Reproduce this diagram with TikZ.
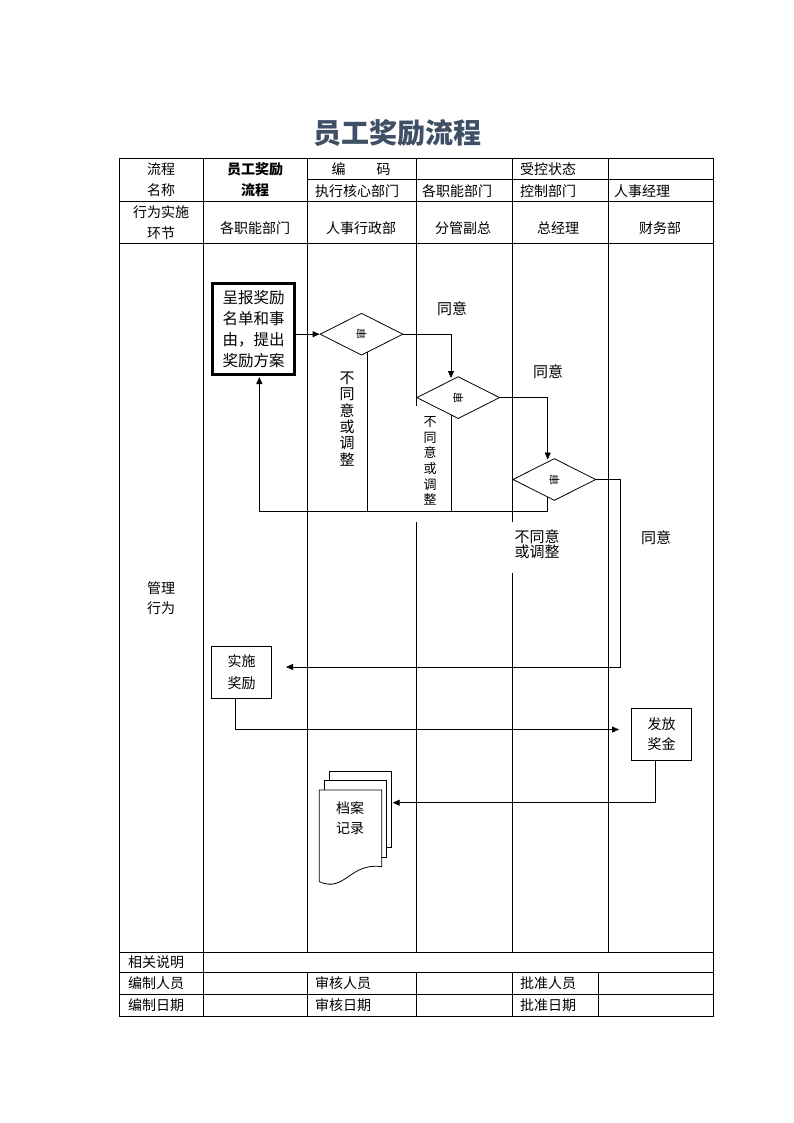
\documentclass[tikz,border=0pt]{standalone}
\usepackage{fontspec}
\newfontfamily\cjk{Noto Sans CJK SC}
\usetikzlibrary{shapes.geometric,arrows.meta}
\definecolor{titleblue}{RGB}{62,79,102}
\begin{document}
\begin{tikzpicture}[x=1pt,y=-1pt,
  every node/.style={font=\cjk\fontsize{14}{16}\selectfont, inner sep=0pt},
  grid/.style={line width=0.8pt},
  flow/.style={line width=0.8pt},
  arr/.style={flow,-{Triangle[length=7pt,width=6pt]}},
  dia/.style={draw, line width=0.8pt, shape=diamond, aspect=2, minimum width=83pt, minimum height=42pt},
  box/.style={draw, line width=0.8pt, align=center},
  lbl/.style={font=\cjk\fontsize{15}{17}\selectfont},
  hdr/.style={font=\cjk\fontsize{14}{21}\selectfont, align=center},
  doc/.style={draw, line width=0.8pt, fill=white}]
\useasboundingbox (0,0) rectangle (794,1123);

% title
\node[font=\cjk\bfseries\fontsize{28}{30}\selectfont, text=titleblue] (title) at (397,133) {员工奖励流程};

% table grid
\draw[grid] (119,158) rectangle (713,1016);
\draw[grid] (307,179) -- (713,179);
\foreach \yy in {201,243,952,972,994} \draw[grid] (119,\yy) -- (713,\yy);
\draw[grid] (203,158) -- (203,1016);
\draw[grid] (307,158) -- (307,952);
\draw[grid] (307,972) -- (307,1016);
\draw[grid] (416,158) -- (416,406);
\draw[grid] (416,522) -- (416,952);
\draw[grid] (416,972) -- (416,1016);
\draw[grid] (512,158) -- (512,522);
\draw[grid] (512,573) -- (512,952);
\draw[grid] (512,972) -- (512,1016);
\draw[grid] (608,158) -- (608,952);
\draw[grid] (598,972) -- (598,1016);

% header texts
\node[hdr] (h11) at (161,180) {流程\\名称};
\node[hdr, font=\cjk\bfseries\fontsize{14}{21}\selectfont] (h12) at (255,180) {员工奖励\\流程};
\node (h13) at (361,169) {编\hspace{31pt}码};
\node (h15) at (548,169) {受控状态};
\node (h23) at (357,191) {执行核心部门};
\node (h24) at (457,191) {各职能部门};
\node (h25) at (548,191) {控制部门};
\node (h26) at (642,191) {人事经理};
\node[hdr] (h31) at (161,222.5) {行为实施\\环节};
\node (h32) at (255,228) {各职能部门};
\node (h33) at (361,228) {人事行政部};
\node (h34) at (463,228) {分管副总};
\node (h35) at (558,228) {总经理};
\node (h36) at (660,228) {财务部};
\node[font=\cjk\fontsize{14}{20}\selectfont, align=center] (m1) at (161,598) {管理\\行为};

% bottom texts
\node (f1) at (156,962) {相关说明};
\node (f2) at (156,983) {编制人员};
\node (f3) at (156,1005) {编制日期};
\node (f4) at (343,983) {审核人员};
\node (f5) at (343,1005) {审核日期};
\node (f6) at (548,983) {批准人员};
\node (f7) at (548,1005) {批准日期};

% flow nodes
\node[box, line width=3pt, minimum width=82pt, minimum height=91pt,
      font=\cjk\fontsize{15.5}{21}\selectfont] (b1) at (253.7,329) {呈报奖励\\名单和事\\由，提出\\奖励方案};
\node[dia] (d1) at (361.5,334.2) {\rotatebox{90}{\fontsize{11}{11}\selectfont 审}};
\node[dia] (d2) at (458.2,397.6) {\rotatebox{90}{\fontsize{11}{11}\selectfont 审}};
\node[dia] (d3) at (554.3,479.5) {\rotatebox{90}{\fontsize{11}{11}\selectfont 审}};
\node[box, minimum width=59.6pt, minimum height=52pt,
      font=\cjk\fontsize{14}{22}\selectfont] (b2) at (241.5,672) {实施\\奖励};
\node[box, minimum width=60pt, minimum height=52.4pt,
      font=\cjk\fontsize{14}{20}\selectfont] (b3) at (661.7,734.5) {发放\\奖金};

% document stack
\filldraw[doc] (329.3,771) rectangle (391.7,847);
\filldraw[doc] (324.3,780) rectangle (386.7,857);
\filldraw[doc] (319.3,790) -- (381.7,790) -- (381.7,866.7)
   .. controls (350,862) and (345,893) .. (319.3,881.7) -- cycle;
\node[font=\cjk\fontsize{14}{20}\selectfont, align=center] (rec) at (350,818) {档案\\记录};

% labels
\node[lbl] (y1) at (452,309) {同意};
\node[lbl] (y2) at (548,372) {同意};
\node[lbl] (y3) at (656,538) {同意};
\node[font=\cjk\fontsize{15}{16.4}\selectfont, align=center] (n1) at (347,419) {不\\同\\意\\或\\调\\整};
\node[font=\cjk\fontsize{13}{15.7}\selectfont, align=center] (n2) at (430,461) {不\\同\\意\\或\\调\\整};
\node[font=\cjk\fontsize{15}{15}\selectfont, align=center] (n3) at (537,544.5) {不同意\\或调整};

% helper coordinates
\coordinate (d2in) at (451,378);
\coordinate (d3in) at (547.7,459.5);
\coordinate (r1) at (620,667);
\coordinate (t1) at (286,667);
\coordinate (d1s) at (367.3,352);
\coordinate (j1) at (367.3,511);
\coordinate (d2s) at (451.7,415);
\coordinate (j2) at (451.7,511);
\coordinate (d3s) at (547.7,497);
\coordinate (j3) at (547.7,511);
\coordinate (b1in) at (259.3,377);
\coordinate (b2s) at (235.3,698);
\coordinate (t2) at (619,729.5);
\coordinate (b3s) at (655.7,760.7);
\coordinate (t3) at (392.7,802.7);

% connectors
\draw[arr] (b1.east |- d1.west) -- (d1.west);
\draw[arr] (d1.east) -| (d2in);
\draw[arr] (d2.east) -| (d3in);
\draw[arr] (d3.east) -| (r1) -- (t1);
\draw[flow] (d1s) -- (j1);
\draw[flow] (d2s) -- (j2);
\draw[arr] (d3s) -- (j3) -| (b1in);
\draw[arr] (b2s) |- (t2);
\draw[arr] (b3s) |- (t3);
\end{tikzpicture}
\end{document}
